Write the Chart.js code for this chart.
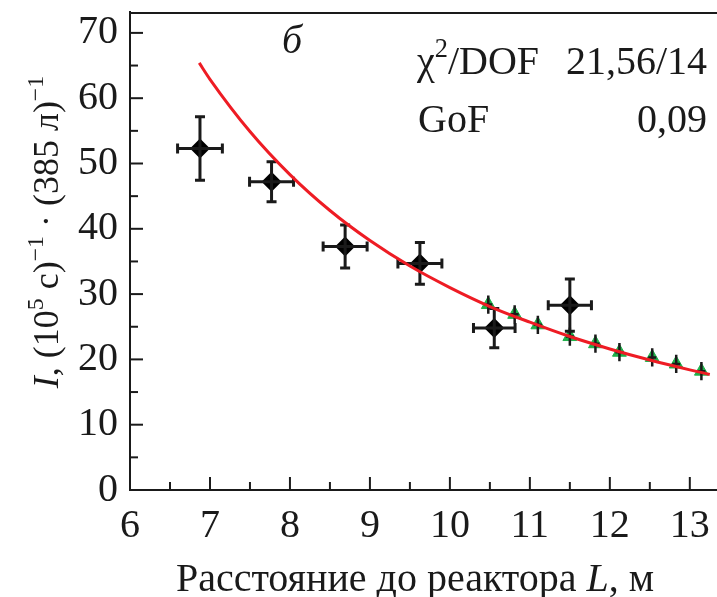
<!DOCTYPE html>
<html>
<head>
<meta charset="utf-8">
<script src="https://cdn.jsdelivr.net/npm/chart.js@4.4.1/dist/chart.umd.min.js"></script>
<style>
  html,body{margin:0;padding:0;background:#fff;}
  #wrap{width:717px;height:597px;position:relative;}
</style>
</head>
<body>
<div id="wrap"><canvas id="c" width="717" height="597"></canvas></div>
<script>
// measured points (black diamonds)
const distMain  = [6.875, 7.77, 8.69, 9.625, 10.555, 11.50];
const rateMain  = [52.3, 47.2, 37.3, 34.7, 24.8, 28.3];
const rateErr   = [4.85, 3.05, 3.3, 3.2, 3.0, 4.0];
const distErr   = [0.28, 0.275, 0.275, 0.275, 0.26, 0.27];
// second set (green triangles)
const distGreen = [10.48, 10.81, 11.10, 11.50, 11.82, 12.12, 12.53, 12.83, 13.145];
const rateGreen = [28.4, 26.9, 25.3, 23.5, 22.4, 21.1, 20.3, 19.3, 18.2];
const rateGreenErr = [1.4, 1.4, 1.4, 1.4, 1.4, 1.4, 1.4, 1.4, 1.4];
const distGreenErr = [0.05, 0.05, 0.05, 0.05, 0.05, 0.05, 0.05, 0.05, 0.05];
// fit curve
const fitDist = [6.866, 7.0, 7.5, 8.0, 8.5, 9.0, 9.5, 10.0, 10.5, 11.0, 11.5, 12.0, 12.5, 13.0, 13.25];
const fitRate = [65.4, 62.9, 54.9, 48.3, 42.8, 38.2, 34.3, 31.0, 28.1, 25.7, 23.5, 21.6, 19.9, 18.4, 17.7];
// axes
const xTicks = [6, 7, 8, 9, 10, 11, 12, 13];
const yTicks = [0, 10, 20, 30, 40, 50, 60, 70];

const SERIF = '"Liberation Serif", "Times New Roman", serif';
const FS = 40;
const INK = '#1a1a1a';

const pts = (xs, ys) => xs.map((x, i) => ({x: x, y: ys[i]}));

const errorBars = {
  id: 'errorBars',
  afterDatasetDraw(chart, args) {
    const ds = chart.data.datasets[args.index];
    if (!ds.yErr) return;
    const {ctx, scales: {x, y}} = chart;
    ctx.save();
    ctx.strokeStyle = INK;
    ctx.lineWidth = ds.errWidth;
    ds.data.forEach((p, i) => {
      const px = x.getPixelForValue(p.x), py = y.getPixelForValue(p.y);
      const y1 = y.getPixelForValue(p.y + ds.yErr[i]), y2 = y.getPixelForValue(p.y - ds.yErr[i]);
      const x1 = x.getPixelForValue(p.x - ds.xErr[i]), x2 = x.getPixelForValue(p.x + ds.xErr[i]);
      const c = ds.capLen;
      ctx.beginPath();
      ctx.moveTo(px, y1); ctx.lineTo(px, y2);
      ctx.moveTo(x1, py); ctx.lineTo(x2, py);
      if (c > 0) {
        ctx.moveTo(px - c, y1); ctx.lineTo(px + c, y1);
        ctx.moveTo(px - c, y2); ctx.lineTo(px + c, y2);
        ctx.moveTo(x1, py - c); ctx.lineTo(x1, py + c);
        ctx.moveTo(x2, py - c); ctx.lineTo(x2, py + c);
      }
      ctx.stroke();
    });
    ctx.restore();
  }
};

function setFont(ctx, r, fs) {
  const size = r[2] ? fs * 0.66 : fs;
  ctx.font = (r[1] ? 'italic ' : '') + size + 'px ' + SERIF;
}
function drawRuns(ctx, runs, x, y, fs) {
  // runs: [text, italic, superscript]
  let cx = x;
  runs.forEach(r => {
    setFont(ctx, r, fs);
    ctx.fillText(r[0], cx, r[2] ? y - fs * 0.42 : y);
    cx += ctx.measureText(r[0]).width;
  });
}
function runsWidth(ctx, runs, fs) {
  let w = 0;
  runs.forEach(r => { setFont(ctx, r, fs); w += ctx.measureText(r[0]).width; });
  return w;
}

const frame = {
  id: 'frame',
  afterDraw(chart) {
    const {ctx, chartArea: a, scales: {x, y}} = chart;
    ctx.save();
    ctx.strokeStyle = INK;
    ctx.lineWidth = 2;
    ctx.beginPath(); ctx.moveTo(a.left, a.top + 1); ctx.lineTo(chart.width, a.top + 1); ctx.stroke();
    // inward ticks
    for (let v = 6; v <= 13.01; v += 0.5) {
      const px = x.getPixelForValue(v);
      const len = Math.abs(v - Math.round(v)) < 1e-6 ? 13 : 8;
      ctx.beginPath(); ctx.moveTo(px, a.bottom); ctx.lineTo(px, a.bottom - len); ctx.stroke();
    }
    for (let v = 0; v <= 70.01; v += 5) {
      const py = y.getPixelForValue(v);
      const len = v % 10 === 0 ? 13 : 8;
      ctx.beginPath(); ctx.moveTo(a.left, py); ctx.lineTo(a.left + len, py); ctx.stroke();
    }
    ctx.fillStyle = INK;
    ctx.textBaseline = 'alphabetic';
    ctx.textAlign = 'left';
    const xr = [['Расстояние до реактора ', false, false], ['L', true, false], [', м', false, false]];
    drawRuns(ctx, xr, 415 - runsWidth(ctx, xr, 40) / 2, 591, 40);
    const yr = [['I', true, false], [', (10', false, false], ['5', false, true], [' с)', false, false],
                ['−1', false, true], [' · (385 л)', false, false], ['−1', false, true]];
    ctx.save();
    ctx.translate(58, 232);
    ctx.rotate(-Math.PI / 2);
    drawRuns(ctx, yr, -runsWidth(ctx, yr, 36) / 2, 0, 36);
    ctx.restore();
    drawRuns(ctx, [['б', true, false]], 282, 53, FS);
    drawRuns(ctx, [['χ', false, false], ['2', false, true], ['/DOF', false, false]], 417, 74, FS);
    drawRuns(ctx, [['GoF', false, false]], 418, 132, FS);
    ctx.textAlign = 'right';
    ctx.font = FS + 'px ' + SERIF;
    ctx.fillText('21,56/14', 707, 74);
    ctx.fillText('0,09', 707, 132);
    ctx.restore();
  }
};

new Chart(document.getElementById('c'), {
  type: 'scatter',
  data: {
    datasets: [
      {type: 'line', data: pts(fitDist, fitRate), borderColor: '#ee1c24', borderWidth: 3,
       pointRadius: 0, cubicInterpolationMode: 'monotone', fill: false},
      {data: pts(distMain, rateMain), pointStyle: 'rectRot', pointRadius: 10,
       backgroundColor: '#000', borderColor: '#000', borderWidth: 0,
       yErr: rateErr, xErr: distErr, errWidth: 3, capLen: 5},
      {data: pts(distGreen, rateGreen), pointStyle: 'triangle', pointRadius: 8,
       backgroundColor: '#1fb04a', borderColor: '#1fb04a', borderWidth: 1,
       yErr: rateGreenErr, xErr: distGreenErr, errWidth: 2.5, capLen: 0},
    ]
  },
  options: {
    responsive: false,
    animation: false,
    layout: {autoPadding: false, padding: {top: 12, right: 0, left: 0, bottom: 0}},
    plugins: {legend: {display: false}, tooltip: {enabled: false}},
    scales: {
      x: {
        type: 'linear', min: 6, max: 13.34,
        afterFit: s => { s.height = 107; s.paddingLeft = 0; s.paddingRight = 0; },
        afterBuildTicks: s => { s.ticks = xTicks.map(v => ({value: v})); },
        grid: {display: true, drawOnChartArea: false, drawTicks: false},
        border: {display: true, color: INK, width: 2},
        ticks: {color: INK, font: {family: SERIF, size: FS}, padding: 12, maxRotation: 0, autoSkip: false}
      },
      y: {
        type: 'linear', min: 0, max: 73.2,
        afterFit: s => { s.width = 130; s.paddingTop = 0; s.paddingBottom = 0; },
        afterBuildTicks: s => { s.ticks = yTicks.map(v => ({value: v})); },
        grid: {display: true, drawOnChartArea: false, drawTicks: false},
        border: {display: true, color: INK, width: 2},
        ticks: {color: INK, font: {family: SERIF, size: FS}, padding: 12, autoSkip: false}
      }
    }
  },
  plugins: [errorBars, frame]
});
</script>
</body>
</html>
